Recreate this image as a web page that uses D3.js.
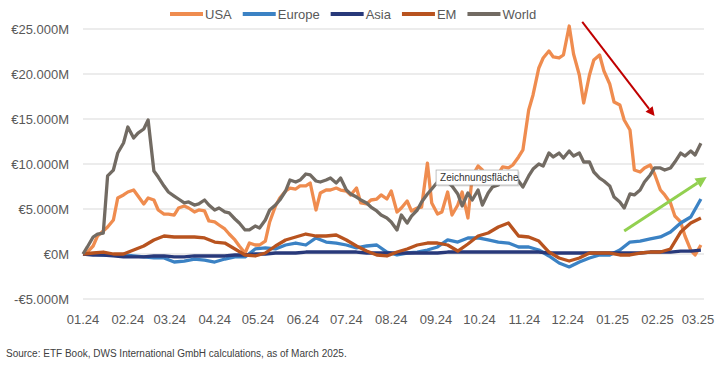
<!DOCTYPE html>
<meta charset="utf-8">
<style>
  body { margin: 0; background: #fff; }
  svg { display: block; }
  text { font-family: "Liberation Sans", Arial, sans-serif; }
</style>
<svg width="727" height="371"></svg>
<script src="https://cdn.jsdelivr.net/npm/d3@7"></script>
<script>

// tick labels of the time axis, one per month
var monthLabels = ["01.24", "02.24", "03.24", "04.24", "05.24", "06.24", "07.24", "08.24",
  "09.24", "10.24", "11.24", "12.24", "01.25", "02.25", "03.25"];

var yTicks = [-5000, 0, 5000, 10000, 15000, 20000, 25000];

// cumulative flows in €M, read twice a week (Mon / Thu) from 01.01.2024
var usa = [0, 220, 890, 2000, 2560, 3000, 3780, 6220, 6560, 6890,
  7110, 6440, 5560, 6220, 6000, 4890, 4440, 4440, 4330, 5110,
  5330, 5110, 4670, 4890, 4780, 3670, 3560, 3220, 2780, 2220,
  1560, 890, 110, 1220, 1000, 1000, 1440, 3560, 5330, 6220,
  7000, 7330, 7220, 7560, 7560, 7890, 4890, 6780, 7110, 7110,
  7330, 7110, 7000, 6560, 7330, 5670, 5560, 6000, 6110, 6560,
  6110, 7000, 4670, 5110, 5890, 4780, 5110, 5220, 10100, 5670,
  4440, 4670, 6890, 4330, 5440, 6890, 4000, 8670, 9780, 9330,
  8220, 8220, 8890, 9670, 9560, 9890, 10780, 11560, 16000, 17670,
  20670, 21780, 22560, 21890, 21780, 22110, 25330, 22220, 19890, 16780,
  19890, 21560, 22110, 20330, 18890, 16890, 16560, 14890, 13780, 9330,
  9110, 9560, 9890, 8890, 7110, 6560, 5670, 4220, 3560, 2000,
  440, -110, 1000];

var world = [0, 780, 1890, 2220, 2330, 8670, 9330, 11220, 12330, 14110,
  12890, 13440, 13890, 14890, 9220, 8550, 7550, 6890, 6440, 6110,
  5670, 5780, 5440, 5560, 6000, 5440, 4890, 5110, 4670, 4560,
  3890, 3440, 2670, 2670, 3110, 2890, 3780, 4890, 5440, 6000,
  7000, 8220, 8000, 8220, 8890, 8780, 8110, 8000, 8220, 8440,
  7890, 8440, 7110, 6670, 6330, 6000, 5670, 5220, 4780, 4330,
  4000, 3560, 2670, 4330, 3440, 4220, 4890, 5780, 6670, 7220,
  8000, 9000, 8000, 7550, 6670, 5330, 6780, 6000, 7110, 5440,
  6780, 7440, 7670, 8560, 8670, 8890, 8110, 7440, 8670, 9440,
  10000, 9780, 11220, 10780, 11220, 10670, 11440, 10890, 11220, 10220,
  10220, 9110, 8440, 8110, 7560, 6330, 5780, 5110, 6670, 6560,
  7110, 8000, 8780, 9560, 9560, 9330, 9560, 10220, 11220, 10890,
  11440, 11000, 12300];

// smoother series, read once a week (Mondays)
var europe = [0, 0, -110, -110, -110, -220, -330, -440, -440, -890,
  -780, -560, -670, -890, -560, -330, -330, 560, 670, 560,
  1000, 1220, 1000, 1780, 1330, 1220, 1000, 670, 890, 1000,
  220, -110, 110, 220, 440, 780, 1560, 1330, 1780, 1780,
  1560, 1330, 1220, 780, 780, 440, -220, -1000, -1440, -890,
  -440, -110, -110, 440, 1330, 1440, 1670, 1890, 2440, 3440,
  4110, 6110];

var asia = [0, -110, -110, -220, -330, -330, -330, -220, -220, -330,
  -330, -220, -220, -220, -220, -110, -110, 0, 0, 110,
  110, 110, 220, 220, 220, 220, 220, 220, 110, 110,
  110, 110, 110, 110, 110, 110, 220, 220, 220, 220,
  220, 220, 220, 220, 220, 220, 110, 110, 110, 110,
  110, 110, 110, 110, 110, 110, 220, 220, 220, 330,
  330, 440];

var em = [0, 110, 220, 0, 0, 440, 890, 1560, 2000, 1890,
  1890, 1890, 1780, 1330, 1220, 560, -110, -220, 110, 890,
  1560, 1890, 2220, 2000, 2000, 2110, 1560, 890, 330, -110,
  -220, 220, 560, 1000, 1220, 1220, 1000, 330, 1110, 2000,
  2330, 3000, 3440, 2000, 1890, 1440, 220, -440, -780, -440,
  110, 110, 110, -110, -110, 110, 220, 220, 560, 2440,
  3440, 4000];

var seriesNames = ["USA", "Europe", "Asia", "EM", "World"];
var seriesColors = ["#ef8c4f", "#3b82c4", "#28397a", "#b8531f", "#726b63"];

// annotation arrows, in data space [date, value]
var redArrow = [["2024-12-11", 25780], ["2025-01-30", 15330]];
var greenArrow = [["2025-01-09", 2560], ["2025-03-07", 8560]];
var tooltipAt = ["2024-09-01", 9330];

var start = new Date(Date.UTC(2024, 0, 1));
var halfWeekDates = d3.range(usa.length).map(function(i) {
  return d3.utcDay.offset(start, Math.floor(i / 2) * 7 + (i % 2) * 3);
});
var weekDates = d3.range(europe.length).map(function(i) {
  return d3.utcDay.offset(start, i * 7);
});

var series = [
  {name: "USA", dates: halfWeekDates, values: usa},
  {name: "Europe", dates: weekDates, values: europe},
  {name: "Asia", dates: weekDates, values: asia},
  {name: "EM", dates: weekDates, values: em},
  {name: "World", dates: halfWeekDates, values: world}
];

var svg = d3.select("svg");
svg.append("rect").attr("width", 727).attr("height", 371).attr("fill", "#fff");

var x = d3.scaleUtc()
    .domain([start, new Date(Date.UTC(2025, 2, 1))])
    .range([83, 698]);

var y = d3.scaleLinear()
    .domain([-5000, 25000])
    .range([299, 29]);

var gridRight = 704;

// gridlines
svg.append("g")
  .selectAll("line")
  .data(yTicks)
  .enter().append("line")
    .attr("x1", 83)
    .attr("x2", gridRight)
    .attr("y1", function(d) { return y(d); })
    .attr("y2", function(d) { return y(d); })
    .attr("stroke", "#d9d9d9")
    .attr("stroke-width", 1);

function euro(d) {
  var s = d3.format(",")(Math.abs(d)).replace(/,/g, ".");
  return (d < 0 ? "-" : "") + "€" + s + "M";
}

svg.append("g")
  .selectAll("text")
  .data(yTicks)
  .enter().append("text")
    .attr("x", 69)
    .attr("y", function(d) { return y(d); })
    .attr("dy", "0.35em")
    .attr("text-anchor", "end")
    .attr("font-size", 13)
    .attr("fill", "#595959")
    .text(euro);

var months = d3.utcMonth.range(start, d3.utcDay.offset(x.domain()[1], 1));

svg.append("g")
  .selectAll("text")
  .data(months)
  .enter().append("text")
    .attr("x", function(d) { return x(d); })
    .attr("y", 319)
    .attr("dy", "0.35em")
    .attr("text-anchor", "middle")
    .attr("font-size", 13)
    .attr("fill", "#595959")
    .text(function(d, i) { return monthLabels[i]; });

// lines
var line = d3.line()
    .x(function(d) { return x(d[0]); })
    .y(function(d) { return y(d[1]); });

svg.append("g")
  .selectAll("path")
  .data(series)
  .enter().append("path")
    .attr("fill", "none")
    .attr("stroke", function(d, i) { return seriesColors[i]; })
    .attr("stroke-width", 3.3)
    .attr("stroke-linejoin", "round")
    .attr("d", function(s) {
      return line(s.values.map(function(v, i) { return [s.dates[i], v]; }));
    });

// arrows
function pt(p) { return [x(new Date(p[0])), y(p[1])]; }

function arrow(a, color, width, head) {
  var p0 = pt(a[0]), p1 = pt(a[1]);
  var ang = Math.atan2(p1[1] - p0[1], p1[0] - p0[0]);
  var bx = p1[0] - Math.cos(ang) * head, by = p1[1] - Math.sin(ang) * head;
  svg.append("line")
    .attr("x1", p0[0]).attr("y1", p0[1])
    .attr("x2", bx).attr("y2", by)
    .attr("stroke", color)
    .attr("stroke-width", width);
  var w = head * 0.5;
  svg.append("polygon")
    .attr("points", [
      p1,
      [bx + Math.sin(ang) * w, by - Math.cos(ang) * w],
      [bx - Math.sin(ang) * w, by + Math.cos(ang) * w]
    ].map(function(p) { return p.join(","); }).join(" "))
    .attr("fill", color);
}

arrow(redArrow, "#c00000", 2, 9);
arrow(greenArrow, "#92d050", 3, 11);

// tooltip left over from the screenshot
var tp = pt(tooltipAt);
var tip = svg.append("g").attr("transform", "translate(" + tp[0] + "," + tp[1] + ")");
tip.append("rect")
    .attr("x", 1.5).attr("y", 1.5)
    .attr("width", 82).attr("height", 15)
    .attr("fill", "#000").attr("opacity", 0.12);
tip.append("rect")
    .attr("width", 82).attr("height", 15)
    .attr("fill", "#fff")
    .attr("stroke", "#b0b0b0")
    .attr("stroke-width", 0.8);
tip.append("text")
    .attr("x", 4).attr("y", 7.5)
    .attr("dy", "0.35em")
    .attr("font-size", 10)
    .attr("fill", "#333")
    .text("Zeichnungsfläche");

// legend
var legend = svg.append("g");
var lx = 170;
seriesNames.forEach(function(name, i) {
  legend.append("line")
    .attr("x1", lx).attr("x2", lx + 33)
    .attr("y1", 14).attr("y2", 14)
    .attr("stroke", seriesColors[i])
    .attr("stroke-width", 4);
  var t = legend.append("text")
    .attr("x", lx + 35)
    .attr("y", 14)
    .attr("dy", "0.35em")
    .attr("font-size", 13)
    .attr("fill", "#595959")
    .text(name);
  lx += 35 + t.node().getComputedTextLength() + 11;
});

svg.append("text")
    .attr("x", 6)
    .attr("y", 353)
    .attr("dy", "0.35em")
    .attr("font-size", 10)
    .attr("fill", "#404040")
    .text("Source: ETF Book, DWS International GmbH calculations, as of March 2025.");

</script>
